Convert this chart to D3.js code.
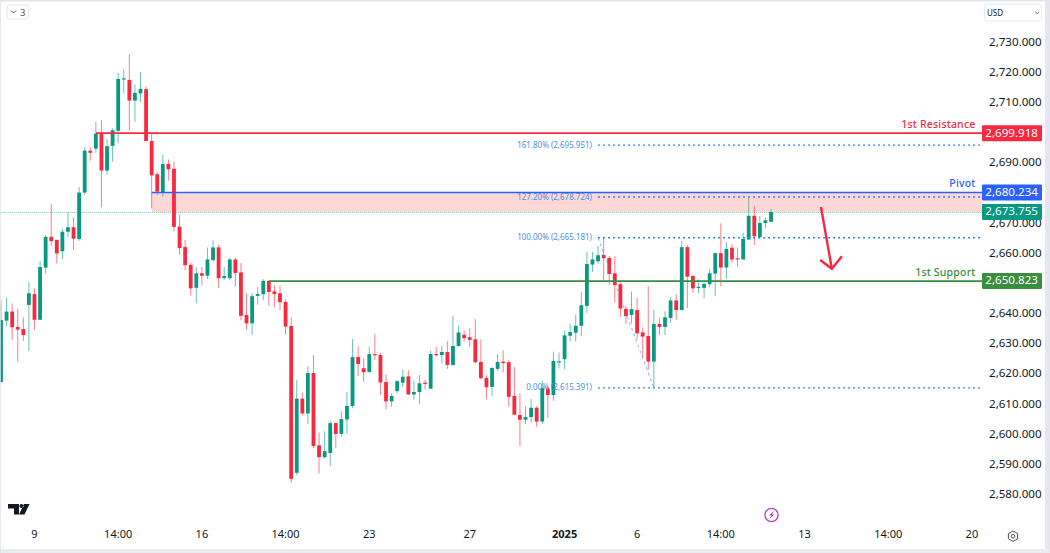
<!DOCTYPE html>
<html>
<head>
<meta charset="utf-8">
<script src="https://cdn.jsdelivr.net/npm/d3@7"></script>
<style>
  html, body { margin: 0; padding: 0; background: #fff; overflow: hidden; }
  svg { display: block; font-family: "Noto Sans", sans-serif; }
</style>
</head>
<body>
<svg id="chart" width="1050" height="553"></svg>
<script>
// candles, 10 per line
const opens = [
  2617.3,2637.7,2640.7,2635.6,2634.9,2642.9,2646.5,2638.0,2655.3,2665.5,
  2664.5,2660.7,2667.2,2668.7,2664.8,2680.2,2694.1,2694.8,2699.6,2687.5,
  2695.7,2700.7,2717.7,2717.6,2710.7,2713.1,2714.5,2697.3,2686.3,2680.2,
  2689.7,2688.1,2668.9,2662.1,2656.2,2648.6,2653.4,2652.6,2657.8,2662.0,
  2651.8,2651.8,2658.0,2653.7,2639.6,2636.8,2645.9,2646.5,2650.9,2647.4,
  2646.8,2643.9,2635.9,2587.2,2611.8,2606.9,2620.3,2596.3,2592.4,2593.8,
  2603.7,2600.1,2604.9,2609.4,2625.6,2621.9,2620.6,2626.6,2626.3,2617.3,
  2610.9,2614.3,2617.1,2619.2,2613.2,2614.0,2617.1,2615.1,2626.6,2626.3,
  2627.3,2623.0,2629.3,2633.0,2632.2,2631.5,2624.0,2618.7,2615.7,2621.7,
  2624.1,2623.9,2612.7,2606.4,2604.8,2605.7,2608.8,2604.2,2615.2,2613.0,
  2623.9,2624.9,2632.7,2633.7,2636.0,2642.6,2656.3,2657.4,2659.5,2658.5,
  2653.4,2649.8,2641.6,2639.6,2641.2,2633.8,2632.6,2624.1,2636.6,2635.6,
  2638.6,2644.4,2641.2,2662.1,2652.5,2648.6,2648.6,2649.8,2653.3,2660.1,
  2655.3,2661.9,2658.4,2658.0,2664.6,2672.5,2665.4,2670.1,2670.5
];
const highs = [
  2644.5,2645.4,2643.4,2641.6,2638.8,2650.4,2648.4,2657.4,2666.1,2676.4,
  2664.5,2668.3,2673.7,2671.9,2682.0,2695.2,2695.2,2703.6,2704.3,2697.9,
  2701.5,2719.9,2721.0,2726.2,2716.1,2720.2,2715.5,2699.6,2687.0,2692.8,
  2691.2,2690.4,2672.8,2664.5,2656.8,2655.4,2655.5,2662.0,2664.4,2662.9,
  2655.5,2658.5,2658.5,2656.8,2646.8,2646.8,2648.8,2651.5,2650.9,2649.4,
  2649.2,2644.8,2638.8,2618.0,2613.9,2622.6,2626.3,2600.6,2601.0,2604.4,
  2603.8,2607.6,2614.0,2631.6,2629.0,2625.2,2629.0,2633.3,2626.9,2619.8,
  2613.6,2618.0,2621.5,2621.3,2617.8,2619.6,2618.0,2627.7,2629.0,2629.3,
  2630.8,2639.2,2636.1,2634.4,2635.2,2638.2,2631.5,2619.6,2622.2,2626.6,
  2627.9,2624.6,2622.4,2613.6,2609.4,2611.7,2609.4,2617.8,2616.3,2627.4,
  2627.1,2634.4,2636.5,2639.7,2647.2,2660.5,2660.5,2662.5,2665.4,2659.1,
  2659.1,2651.2,2642.5,2647.4,2645.2,2635.5,2649.2,2641.2,2638.6,2640.8,
  2645.6,2646.5,2664.2,2662.7,2652.8,2651.4,2650.3,2654.7,2660.1,2670.0,
  2663.8,2663.1,2662.0,2666.9,2678.6,2675.7,2672.4,2672.0,2674.8
];
const lows = [
  2617.0,2635.9,2631.3,2624.1,2631.0,2627.6,2634.6,2637.9,2653.4,2662.5,
  2656.7,2658.0,2665.4,2661.1,2664.2,2679.4,2690.8,2693.4,2675.3,2686.1,
  2690.4,2696.6,2713.1,2700.7,2703.7,2710.2,2697.3,2675.0,2679.3,2678.8,
  2684.1,2667.3,2659.5,2654.5,2646.0,2643.5,2649.5,2651.5,2657.3,2648.5,
  2651.3,2651.2,2649.0,2637.9,2634.7,2633.0,2643.0,2644.5,2642.5,2642.1,
  2641.2,2633.0,2583.8,2586.4,2606.3,2603.3,2595.4,2587.0,2591.9,2589.5,
  2595.4,2599.2,2600.1,2608.6,2619.3,2617.4,2620.6,2624.6,2613.0,2608.3,
  2609.1,2613.6,2615.6,2613.0,2611.4,2610.0,2614.9,2615.1,2625.7,2623.5,
  2621.7,2622.6,2629.0,2630.8,2629.0,2623.5,2618.2,2611.6,2612.7,2621.1,
  2620.6,2609.1,2606.4,2596.1,2603.4,2603.8,2602.5,2603.4,2605.4,2611.1,
  2621.9,2621.7,2630.9,2630.8,2632.6,2640.3,2653.8,2656.5,2651.2,2649.6,
  2643.7,2639.0,2636.6,2636.8,2631.5,2625.3,2621.5,2615.4,2632.9,2632.9,
  2637.0,2637.9,2641.2,2641.9,2647.0,2646.8,2645.1,2648.8,2645.9,2649.2,
  2651.5,2656.9,2655.6,2658.0,2664.6,2662.8,2665.4,2668.4,2670.5
];
const closes = [
  2637.9,2640.7,2635.5,2634.7,2632.9,2646.8,2638.0,2655.5,2665.5,2664.1,
  2660.0,2667.2,2668.7,2664.9,2680.2,2694.1,2693.4,2699.7,2687.5,2695.6,
  2700.9,2717.9,2718.1,2710.7,2713.3,2714.6,2697.3,2685.9,2680.5,2689.7,
  2687.9,2668.8,2661.8,2656.1,2648.4,2653.4,2652.6,2658.0,2662.0,2651.8,
  2652.5,2658.0,2653.5,2639.3,2636.8,2645.8,2646.5,2650.9,2647.2,2646.5,
  2643.8,2635.7,2585.2,2611.8,2606.9,2620.3,2596.1,2592.4,2594.4,2603.7,
  2600.1,2605.0,2609.4,2625.6,2623.3,2620.6,2626.6,2626.2,2617.2,2610.9,
  2612.7,2617.6,2619.1,2613.2,2614.0,2616.9,2616.7,2626.6,2626.2,2627.3,
  2623.0,2629.3,2633.8,2631.9,2631.3,2623.9,2618.6,2615.6,2622.0,2624.0,
  2623.6,2612.4,2606.5,2604.8,2605.7,2608.8,2604.2,2615.3,2613.0,2624.3,
  2624.2,2632.8,2633.9,2636.0,2642.8,2656.5,2658.0,2659.4,2658.4,2653.2,
  2649.5,2641.7,2639.2,2641.5,2633.5,2632.4,2624.1,2636.6,2635.6,2638.8,
  2644.4,2641.2,2662.1,2652.3,2648.4,2648.9,2649.9,2653.4,2660.1,2655.3,
  2661.5,2658.0,2658.0,2664.8,2672.5,2665.7,2670.1,2671.0,2673.755
];

const priceTicks = [2730,2720,2710,2690,2670,2660,2640,2630,2620,2610,2600,2590,2580];
const timeTickIdx = [6,21,36,51,66,84,101,114,129,144,159,174];
const timeTickLabels = ["9","14:00","16","14:00","23","27","2025","6","14:00","13","14:00","20"];

// horizontal levels
const resistancePrice = 2699.918, pivotPrice = 2680.234, supportPrice = 2650.823, lastPrice = 2673.755;
const resistanceStart = 17, pivotStart = 27, supportStart = 48;
const fibPrices = [2695.951, 2678.724, 2665.181, 2615.391];
const fibLabels = ["161.80% (2,695.951)", "127.20% (2,678.724)", "100.00% (2,665.181)", "0.00% (2,615.391)"];
// fib trend line, candle index and price
const fibLineIdx = [107, 117], fibLinePrice = [2665.181, 2615.391];
// red arrow drawing: shaft then head, candle index and price
const arrowIdx = [146.95, 148.9], arrowPrice = [2675.4, 2654.9];
const arrowHeadIdx = [146.8, 148.9, 150.7], arrowHeadPrice = [2657.8, 2654.9, 2659.1];

const GREEN = "#089981", RED = "#f8283f", BLUE = "#2962ff", DARKGREEN = "#388e3c", FIB = "#2f80ed";
const plotRight = 982;

const svg = d3.select("#chart");
const x = d3.scaleLinear().domain([0, 174]).range([1, 1 + 5.58 * 174]);
const y = d3.scaleLinear().domain([2580, 2730]).range([494.5, 42.5]);

// frame
svg.append("rect").attr("width", 1050).attr("height", 553).attr("fill", "#fff");

// zone between pivot and last price
svg.append("rect")
  .attr("x", x(pivotStart)).attr("y", y(pivotPrice))
  .attr("width", plotRight - x(pivotStart)).attr("height", y(lastPrice) - y(pivotPrice))
  .attr("fill", "#fdd8d6");

// last price dotted line
svg.append("line")
  .attr("x1", 0).attr("x2", plotRight).attr("y1", y(lastPrice) + 0.5).attr("y2", y(lastPrice) + 0.5)
  .attr("stroke", GREEN).attr("stroke-opacity", 0.45).attr("stroke-dasharray", "1 1");

// candles
const candles = d3.range(opens.length);
const color = i => closes[i] >= opens[i] ? GREEN : RED;

svg.append("g").selectAll("line").data(candles).join("line")
  .attr("x1", i => x(i)).attr("x2", i => x(i))
  .attr("y1", i => y(highs[i])).attr("y2", i => y(lows[i]))
  .attr("stroke", color).attr("stroke-opacity", 0.6).attr("stroke-width", 1);

svg.append("g").selectAll("rect").data(candles).join("rect")
  .attr("x", i => x(i) - 1.9).attr("width", 3.8)
  .attr("y", i => y(Math.max(opens[i], closes[i])))
  .attr("height", i => Math.max(1.2, Math.abs(y(opens[i]) - y(closes[i]))))
  .attr("fill", color);

// fib levels
fibPrices.forEach(function(p, k) {
  svg.append("line")
    .attr("x1", x(fibLineIdx[0])).attr("x2", plotRight)
    .attr("y1", y(p)).attr("y2", y(p))
    .attr("stroke", FIB).attr("stroke-width", 1.4).attr("stroke-dasharray", "2 3");
  svg.append("text")
    .attr("x", 592).attr("y", y(p) + 0.5)
    .attr("text-anchor", "end").attr("dominant-baseline", "middle")
    .attr("font-size", 8).attr("fill", "#4a90e2")
    .text(fibLabels[k]);
});
const lineGen = d3.line().x(d => x(d[0])).y(d => y(d[1]));
svg.append("path")
  .attr("d", lineGen(d3.zip(fibLineIdx, fibLinePrice)))
  .attr("fill", "none").attr("stroke", FIB).attr("stroke-opacity", 0.6)
  .attr("stroke-dasharray", "3 3");

// horizontal levels
function level(price, start, col) {
  svg.append("line")
    .attr("x1", x(start)).attr("x2", plotRight).attr("y1", y(price)).attr("y2", y(price))
    .attr("stroke", col).attr("stroke-width", 1.6);
}
level(resistancePrice, resistanceStart, RED);
level(pivotPrice, pivotStart, BLUE);
level(supportPrice, supportStart, DARKGREEN);

function levelName(txt, price, col) {
  svg.append("text")
    .attr("x", 975.5).attr("y", y(price) - 7.8)
    .attr("text-anchor", "end").attr("dominant-baseline", "middle")
    .attr("font-size", 10.5).attr("font-weight", 500).attr("letter-spacing", 0.2)
    .attr("fill", col).text(txt);
}
levelName("1st Resistance", resistancePrice, RED);
levelName("Pivot", pivotPrice, BLUE);
levelName("1st Support", supportPrice, DARKGREEN);

// red arrow
svg.append("path").attr("d", lineGen(d3.zip(arrowIdx, arrowPrice)))
  .attr("fill", "none").attr("stroke", RED).attr("stroke-width", 2.4);
svg.append("path").attr("d", lineGen(d3.zip(arrowHeadIdx, arrowHeadPrice)))
  .attr("fill", "none").attr("stroke", RED).attr("stroke-width", 2.4);

// price axis
const yAxis = d3.axisRight(y).tickValues(priceTicks).tickSize(0).tickPadding(0)
  .tickFormat(d => d3.format(",.3f")(d));
const yG = svg.append("g").attr("transform", "translate(989,-0.8)").call(yAxis);
yG.select(".domain").remove();
yG.selectAll("text").attr("font-size", 11.6).attr("fill", "#131722")
  .attr("font-family", '"Noto Sans", sans-serif');

// price tags
function tag(price, col) {
  const cy = y(price);
  svg.append("rect").attr("x", 982).attr("y", cy - 8).attr("width", 60).attr("height", 16)
    .attr("rx", 1).attr("fill", col);
  svg.append("text").attr("x", 1038).attr("y", cy + 0.3)
    .attr("text-anchor", "end").attr("dominant-baseline", "middle")
    .attr("font-size", 11.6).attr("fill", "#fff")
    .text(d3.format(",.3f")(price));
}
tag(resistancePrice, RED);
tag(pivotPrice, BLUE);
tag(lastPrice, GREEN);
tag(supportPrice, DARKGREEN);

// time axis
const xAxis = d3.axisBottom(x).tickValues(timeTickIdx).tickSize(0).tickPadding(0)
  .tickFormat((d, k) => timeTickLabels[k]);
const xG = svg.append("g").attr("transform", "translate(-0.5,530.5)").call(xAxis);
xG.select(".domain").remove();
xG.selectAll("text").attr("font-size", 11).attr("fill", "#131722")
  .attr("font-family", '"Noto Sans", sans-serif')
  .attr("font-weight", (d, k) => timeTickLabels[k] === "2025" ? 700 : 400);

// top left button
svg.append("rect").attr("x", 7).attr("y", 5).attr("width", 21.5).attr("height", 14)
  .attr("rx", 3).attr("fill", "#fff").attr("stroke", "#e6e8ee");
svg.append("path").attr("d", "M11 10.5l2.5 2.5 2.5-2.5").attr("fill", "none").attr("stroke", "#50535e");
svg.append("text").attr("x", 20).attr("y", 15.5).attr("font-size", 9.5).attr("fill", "#50535e").text("3");

// currency box
svg.append("rect").attr("x", 984.5).attr("y", 4).attr("width", 57).attr("height", 17)
  .attr("rx", 3).attr("fill", "#fff").attr("stroke", "#e6e8ee");
svg.append("text").attr("x", 987).attr("y", 15.5).attr("font-size", 8).attr("fill", "#131722").text("USD");
svg.append("path").attr("d", "M1035.5 12l1.7 1.6 1.7-1.6").attr("fill", "none").attr("stroke", "#50535e");

// TradingView mark
svg.append("path")
  .attr("d", "M8 504h11v10.5h-5v-6h-6zM21.5 504a2 2 0 1 0 .01 0zM24 504h5.5l-5 10.5h-5.5z")
  .attr("fill", "#131722");

// bolt badge
svg.append("circle").attr("cx", 771.5).attr("cy", 515).attr("r", 6.6)
  .attr("fill", "#fff").attr("stroke", "#ab47bc").attr("stroke-width", 1.3);
svg.append("path").attr("d", "M774.5 510.6l-5.6 5h2.6l-2.6 3.8 5.6-5h-2.6z").attr("fill", "#ab47bc");

// gear
svg.append("path")
  .attr("d", "M1013 531l4.6 2.6v5.2l-4.6 2.6-4.6-2.6v-5.2z")
  .attr("fill", "none").attr("stroke", "#50535e");
svg.append("circle").attr("cx", 1013).attr("cy", 536.2).attr("r", 1.8)
  .attr("fill", "none").attr("stroke", "#50535e");

// window edges
svg.append("rect").attr("x", 0).attr("y", 0).attr("width", 1050).attr("height", 1.5).attr("fill", "#e0e3eb");
svg.append("rect").attr("x", 1045).attr("y", 0).attr("width", 5).attr("height", 553).attr("fill", "#e4e6f2");
svg.append("rect").attr("x", 0).attr("y", 549).attr("width", 1050).attr("height", 4).attr("fill", "#e9ebf0");
svg.append("rect").attr("x", 0).attr("y", 0).attr("width", 0.8).attr("height", 553).attr("fill", "#e0e3eb");
</script>
</body>
</html>
